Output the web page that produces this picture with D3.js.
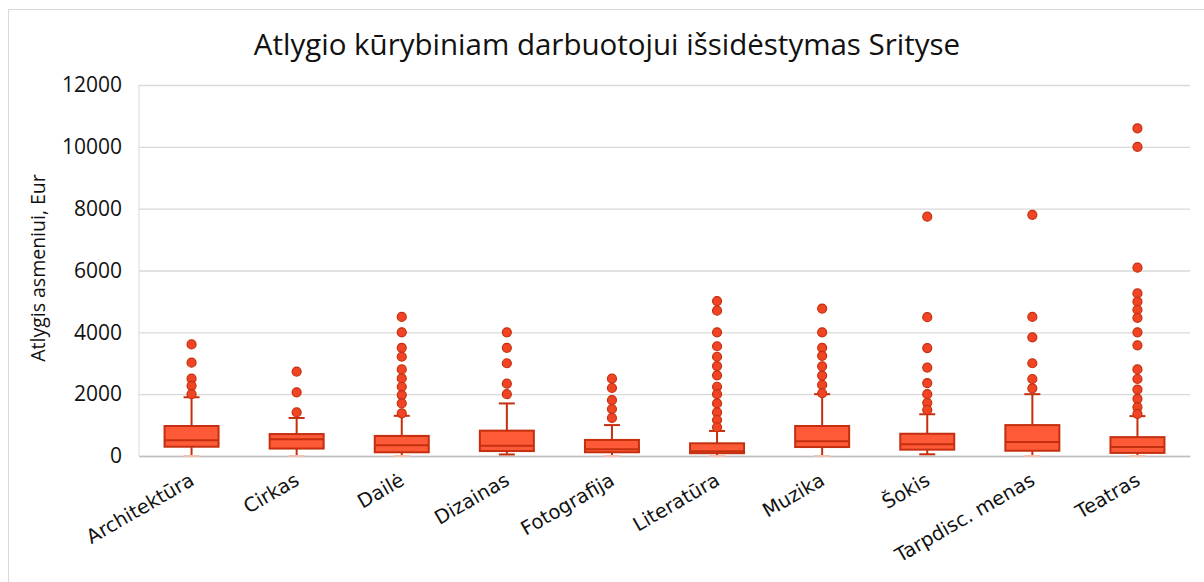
<!DOCTYPE html>
<html>
<head>
<meta charset="utf-8">
<script src="https://cdn.jsdelivr.net/npm/d3@7"></script>
<style>
  body { margin: 0; background: #fff; }
  svg text { fill: #111; }
</style>
</head>
<body>
<svg></svg>
<script>
const width = 1204;
const height = 582;
const plot = { left: 139, right: 1190, top: 85, bottom: 456 };

const categories = ['Architektūra', 'Cirkas', 'Dailė', 'Dizainas', 'Fotografija',
  'Literatūra', 'Muzika', 'Šokis', 'Tarpdisc. menas', 'Teatras'];
const whiskerLow = [0, 0, 0, 50, 0, 0, 0, 55, 0, 0];
const q1 = [300, 240, 120, 160, 120, 90, 290, 205, 170, 100];
const median = [510, 540, 350, 330, 220, 150, 480, 380, 450, 295];
const q3 = [970, 710, 650, 820, 520, 410, 970, 720, 1000, 610];
const whiskerHigh = [1900, 1230, 1300, 1700, 1000, 810, 2000, 1350, 2000, 1290];
const outliers = [
  [3610, 3020, 2500, 2270, 2000],
  [2730, 2060, 1410],
  [4500, 4000, 3500, 3210, 2800, 2510, 2240, 1970, 1700, 1380],
  [4000, 3500, 3000, 2340, 2000],
  [2500, 2200, 1810, 1520, 1230],
  [5010, 4700, 4000, 3550, 3210, 2910, 2610, 2240, 2000, 1700, 1410, 1165, 930],
  [4770, 4000, 3500, 3240, 2900, 2600, 2300, 2030],
  [7740, 4490, 3490, 2860, 2360, 2000, 1720, 1490],
  [7800, 4500, 3840, 3000, 2490, 2190],
  [10600, 10000, 6090, 5260, 4990, 4730, 4470, 4000, 3580, 2800, 2490, 2150, 1850, 1580, 1360]
];
const yTicks = [0, 2000, 4000, 6000, 8000, 10000, 12000];

const boxFill = '#ff5a38';
const boxStroke = '#c4300f';
const paleCap = '#f2bfb2';
const tickFont = 'DejaVu Sans, sans-serif';

const svg = d3.select('svg')
  .attr('width', width)
  .attr('height', height);

// outer chart frame
svg.append('rect')
  .attr('x', 8.5).attr('y', 9.5)
  .attr('width', 1300).attr('height', 700)
  .attr('fill', 'none')
  .attr('stroke', '#d9d9d9');

const xScale = d3.scaleBand()
  .domain(categories)
  .range([plot.left, plot.right]);

const yScale = d3.scaleLinear()
  .domain([0, 12000])
  .range([plot.bottom, plot.top]);

// gridlines
svg.append('g')
  .attr('transform', `translate(${plot.left}, 0)`)
  .call(d3.axisLeft(yScale).tickValues(yTicks).tickSize(-(plot.right - plot.left)).tickFormat(''))
  .call(g => g.select('.domain').remove())
  .call(g => g.selectAll('line').attr('stroke', '#d9d9d9').attr('stroke-width', 1.3));

// left frame line
svg.append('line')
  .attr('x1', plot.left).attr('x2', plot.left)
  .attr('y1', plot.top).attr('y2', plot.bottom)
  .attr('stroke', '#d9d9d9');

// y axis labels
svg.append('g')
  .attr('transform', `translate(${plot.left - 14}, 0)`)
  .call(d3.axisLeft(yScale).tickValues(yTicks).tickSize(0).tickFormat(d => d))
  .call(g => g.select('.domain').remove())
  .call(g => g.selectAll('text')
    .attr('font-family', 'Open Sans, sans-serif')
    .attr('font-size', 21)
    .attr('fill', '#111'));

// x axis
svg.append('g')
  .attr('transform', `translate(0, ${plot.bottom})`)
  .call(d3.axisBottom(xScale).tickSize(0).tickPadding(0))
  .call(g => g.select('.domain').attr('stroke', '#bfbfbf').attr('stroke-width', 1.3))
  .call(g => g.selectAll('text')
    .attr('font-family', tickFont)
    .attr('font-size', 19.5)
    .attr('fill', '#111')
    .attr('text-anchor', 'end')
    .attr('dy', 0)
    .attr('transform', 'translate(4, 28) rotate(-30)'));

const boxW = 54;
const capW = 16;

const groups = svg.append('g')
  .selectAll('g')
  .data(categories)
  .join('g')
  .attr('transform', d => `translate(${xScale(d) + xScale.bandwidth() / 2}, 0)`);

// whiskers
groups.append('line')
  .attr('y1', (d, i) => yScale(q3[i]))
  .attr('y2', (d, i) => yScale(whiskerHigh[i]))
  .attr('stroke', boxStroke).attr('stroke-width', 2);
groups.append('line')
  .attr('x1', -capW / 2).attr('x2', capW / 2)
  .attr('y1', (d, i) => yScale(whiskerHigh[i]))
  .attr('y2', (d, i) => yScale(whiskerHigh[i]))
  .attr('stroke', boxStroke).attr('stroke-width', 2);
groups.append('line')
  .attr('y1', (d, i) => yScale(q1[i]))
  .attr('y2', (d, i) => yScale(whiskerLow[i]))
  .attr('stroke', boxStroke).attr('stroke-width', 2);
groups.append('line')
  .attr('x1', -capW / 2).attr('x2', capW / 2)
  .attr('y1', (d, i) => yScale(whiskerLow[i]))
  .attr('y2', (d, i) => yScale(whiskerLow[i]))
  .attr('stroke', (d, i) => whiskerLow[i] === 0 ? paleCap : boxStroke)
  .attr('stroke-width', 2);

// boxes
groups.append('rect')
  .attr('x', -boxW / 2)
  .attr('y', (d, i) => yScale(q3[i]))
  .attr('width', boxW)
  .attr('height', (d, i) => yScale(q1[i]) - yScale(q3[i]))
  .attr('fill', boxFill)
  .attr('stroke', boxStroke)
  .attr('stroke-width', 2);

groups.append('line')
  .attr('x1', -boxW / 2).attr('x2', boxW / 2)
  .attr('y1', (d, i) => yScale(median[i]))
  .attr('y2', (d, i) => yScale(median[i]))
  .attr('stroke', boxStroke).attr('stroke-width', 2);

// outliers
groups.selectAll('circle')
  .data((d, i) => outliers[i])
  .join('circle')
  .attr('cy', d => yScale(d))
  .attr('r', 4.5)
  .attr('fill', '#f04424')
  .attr('stroke', '#c4300f')
  .attr('stroke-width', 1.2);

// title
svg.append('text')
  .attr('x', 607).attr('y', 55)
  .attr('text-anchor', 'middle')
  .attr('font-family', 'Open Sans, sans-serif')
  .attr('font-size', 29.5)
  .text('Atlygio kūrybiniam darbuotojui išsidėstymas Srityse');

// y axis title
svg.append('text')
  .attr('transform', 'translate(45, 268) rotate(-90)')
  .attr('text-anchor', 'middle')
  .attr('font-family', 'Open Sans, sans-serif')
  .attr('font-size', 19.5)
  .text('Atlygis asmeniui, Eur');
</script>
</body>
</html>
